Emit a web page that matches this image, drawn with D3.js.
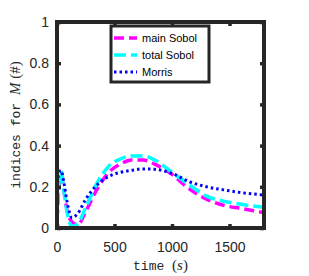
<!DOCTYPE html>
<html>
<head>
<meta charset="utf-8">
<style>
body { margin: 0; background: #fff; }
svg { display: block; }
</style>
</head>
<body>
<script src="https://d3js.org/d3.v7.min.js"></script>
<script>
'use strict';
// values
const time = [0, 15, 35, 60, 90, 130, 180, 250, 350, 450, 550, 650, 750, 850, 1000, 1150, 1300, 1450, 1600, 1800];
const mainSobol = [0.04, 0.18, 0.26, 0.18, 0.08, 0.03, 0.015, 0.08, 0.19, 0.27, 0.31, 0.33, 0.33, 0.31, 0.26, 0.19, 0.14, 0.11, 0.095, 0.075];
const totalSobol = [0.03, 0.2, 0.275, 0.18, 0.07, 0.008, 0.02, 0.1, 0.22, 0.3, 0.335, 0.35, 0.35, 0.33, 0.27, 0.21, 0.155, 0.13, 0.115, 0.1];
const morris = [0.19, 0.26, 0.28, 0.22, 0.12, 0.05, 0.07, 0.14, 0.21, 0.25, 0.27, 0.28, 0.287, 0.285, 0.265, 0.225, 0.2, 0.185, 0.172, 0.16];
const xTicks = [0, 500, 1000, 1500];
const yTicks = [0, 0.2, 0.4, 0.6, 0.8, 1];

const series = [
  {name: 'main Sobol', values: mainSobol, color: '#ff00ff', dash: '10,5', w: 3.5},
  {name: 'total Sobol', values: totalSobol, color: '#00ffff', dash: '12,5', w: 3.5},
  {name: 'Morris', values: morris, color: '#0000ff', dash: '2.5,3', w: 3}
];

const W = 309, H = 276;
const m = {left: 57, top: 22, right: 45, bottom: 48};
const iw = W - m.left - m.right, ih = H - m.top - m.bottom;
const axisCol = '#262626';

const svg = d3.select('body').append('svg').attr('width', W).attr('height', H);
const g = svg.append('g').attr('transform', `translate(${m.left},${m.top})`);

const x = d3.scaleLinear().domain([0, 1800]).range([0, iw]);
const y = d3.scaleLinear().domain([0, 1]).range([ih, 0]);

g.append('defs').append('clipPath').attr('id', 'clip')
  .append('rect').attr('width', iw).attr('height', ih);

// lines
const line = d3.line().curve(d3.curveMonotoneX);
const lines = g.append('g').attr('clip-path', 'url(#clip)');
series.forEach(s => {
  lines.append('path')
    .attr('d', line(time.map((t, i) => [x(t), y(s.values[i])])))
    .attr('fill', 'none')
    .attr('stroke', s.color)
    .attr('stroke-width', s.w)
    .attr('stroke-dasharray', s.dash);
});

// axes (box style, ticks inside)
function styleAxis(sel, labels) {
  sel.select('.domain').remove();
  sel.selectAll('line').attr('stroke', axisCol).attr('stroke-width', 3.5);
  sel.selectAll('text').attr('fill', labels ? axisCol : 'none')
    .style('font-family', 'Liberation Sans, Arial, sans-serif').style('font-size', '14px');
}
g.append('g').attr('transform', `translate(0,${ih})`)
  .call(d3.axisBottom(x).tickValues(xTicks).tickSizeInner(-4).tickSizeOuter(0).tickPadding(14).tickFormat(d3.format('d')))
  .call(s => styleAxis(s, true));
g.append('g')
  .call(d3.axisTop(x).tickValues(xTicks).tickSizeInner(-4).tickSizeOuter(0).tickFormat(''))
  .call(s => styleAxis(s, false));
g.append('g')
  .call(d3.axisLeft(y).tickValues(yTicks).tickSizeInner(-4).tickSizeOuter(0).tickPadding(8).tickFormat(d3.format('~g')))
  .call(s => styleAxis(s, true));
g.append('g').attr('transform', `translate(${iw},0)`)
  .call(d3.axisRight(y).tickValues(yTicks).tickSizeInner(-4).tickSizeOuter(0).tickFormat(''))
  .call(s => styleAxis(s, false));

g.append('rect').attr('width', iw).attr('height', ih)
  .attr('fill', 'none').attr('stroke', axisCol).attr('stroke-width', 4);

// legend
const lg = svg.append('g').attr('transform', 'translate(111,26)');
lg.append('rect').attr('width', 98).attr('height', 56)
  .attr('fill', '#fff').attr('stroke', axisCol).attr('stroke-width', 3);
series.forEach((s, i) => {
  const yy = 12 + i * 17;
  lg.append('line').attr('x1', 3).attr('x2', 26).attr('y1', yy).attr('y2', yy)
    .attr('stroke', s.color).attr('stroke-width', s.w).attr('stroke-dasharray', s.dash);
  lg.append('text').attr('x', 31).attr('y', yy).attr('dy', '0.35em')
    .style('font-family', 'Liberation Sans, Arial, sans-serif').style('font-size', '11px')
    .attr('fill', '#000').text(s.name);
});

// axis titles
const yl = svg.append('text')
  .attr('transform', `translate(20,${m.top + ih / 2}) rotate(-90)`)
  .attr('text-anchor', 'middle').attr('fill', axisCol);
yl.append('tspan').style('font-family', 'Liberation Mono, monospace').style('font-size', '13px').text('indices for ');
yl.append('tspan').style('font-family', 'Liberation Serif, serif').style('font-style', 'italic').style('font-size', '15px').text('M');
yl.append('tspan').style('font-family', 'Liberation Serif, serif').style('font-size', '15px').text(' (#)');

const xl = svg.append('text')
  .attr('x', m.left + iw / 2).attr('y', 270)
  .attr('text-anchor', 'middle').attr('fill', axisCol);
xl.append('tspan').style('font-family', 'Liberation Mono, monospace').style('font-size', '13px').text('time ');
xl.append('tspan').style('font-family', 'Liberation Serif, serif').style('font-size', '15px').text(' (');
xl.append('tspan').style('font-family', 'Liberation Serif, serif').style('font-style', 'italic').style('font-size', '15px').text('s');
xl.append('tspan').style('font-family', 'Liberation Serif, serif').style('font-size', '15px').text(')');
</script>
</body>
</html>
